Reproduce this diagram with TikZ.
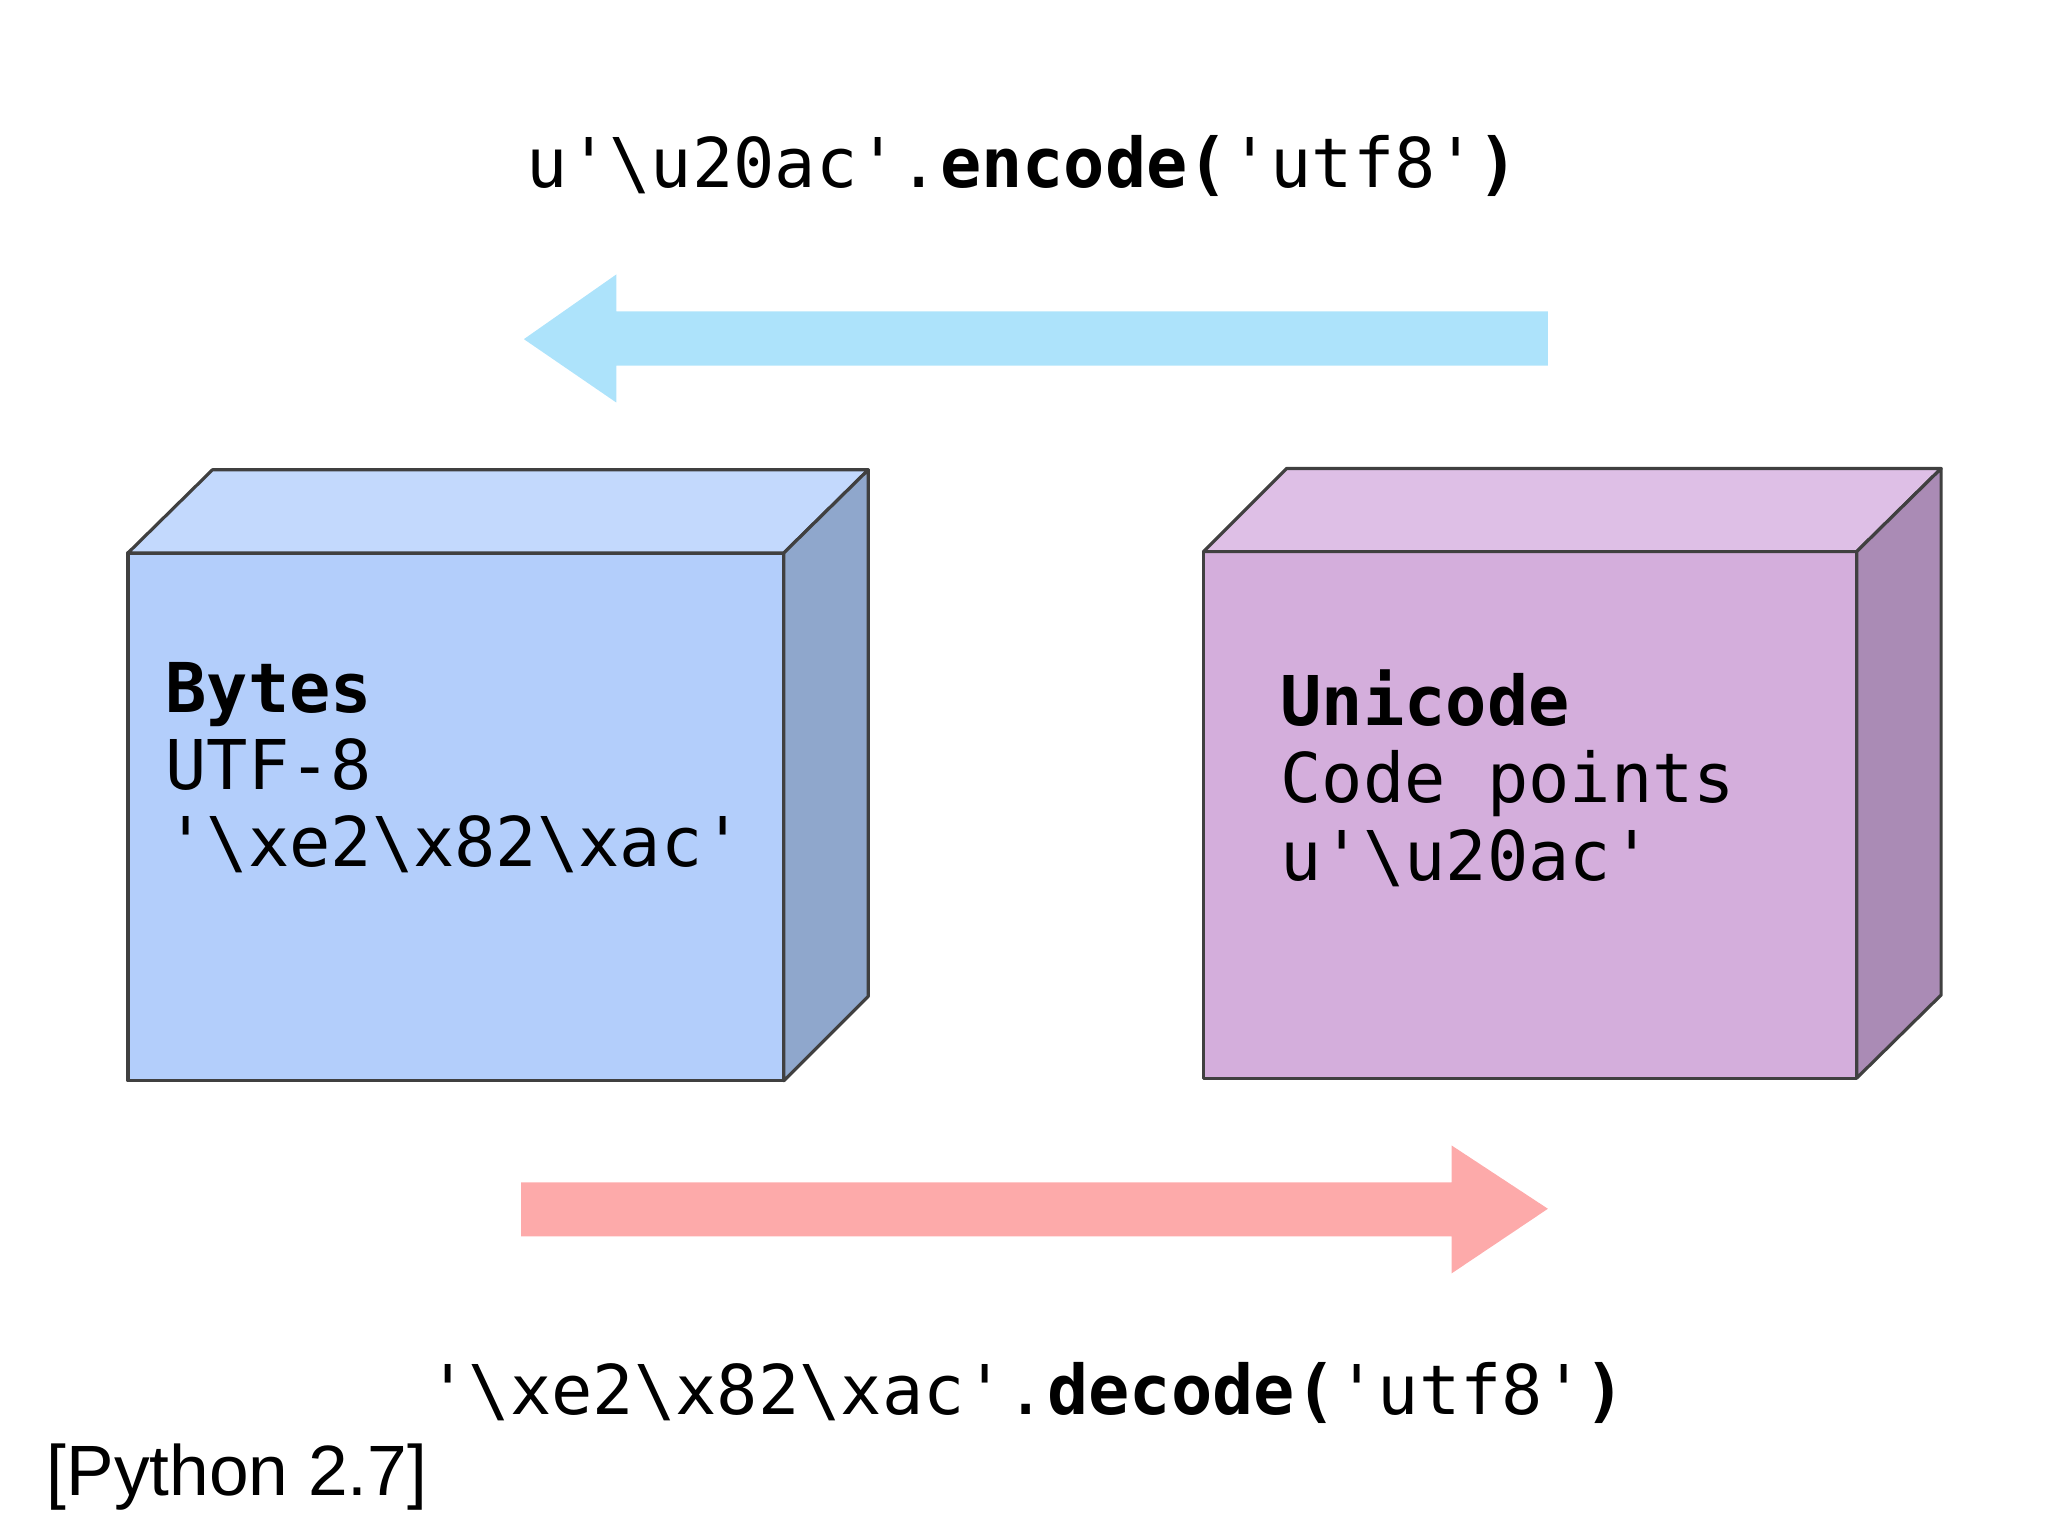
\documentclass[tikz,border=0pt]{standalone}
\usepackage{fontspec}
\setmainfont{Liberation Sans}
\newfontfamily\codefont{DejaVu Sans Mono}
\begin{document}
\begin{tikzpicture}[x=0.5pt,y=-0.5pt,
  edge/.style={draw=black!75,line width=1.2pt,line join=round},
  code/.style={font=\codefont\fontsize{26}{31}\selectfont,inner sep=0pt,anchor=base west,align=left},
  ctr/.style={font=\codefont\fontsize{26}{31}\selectfont,inner sep=0pt,anchor=base}]
\useasboundingbox (0,0) rectangle (1552,1164);
\definecolor{bfront}{HTML}{B3CEFB}\definecolor{btop}{HTML}{C3D9FD}\definecolor{bside}{HTML}{8FA7CC}
\definecolor{ufront}{HTML}{D4AEDC}\definecolor{utop}{HTML}{DEBFE6}\definecolor{uside}{HTML}{AA8BB5}
\definecolor{blarrow}{HTML}{ADE3FB}\definecolor{rdarrow}{HTML}{FDAAAA}
% left box
\fill[bfront,edge] (97,419) rectangle (594,819);
\fill[btop,edge] (97,419) -- (161,356) -- (658,356) -- (594,419) -- cycle;
\fill[bside,edge] (594,419) -- (658,356) -- (658,755) -- (594,819) -- cycle;
% right box
\fill[ufront,edge] (912,418) rectangle (1407,817);
\fill[utop,edge] (912,418) -- (975,355) -- (1471,355) -- (1407,418) -- cycle;
\fill[uside,edge] (1407,418) -- (1471,355) -- (1471,754) -- (1407,817) -- cycle;
% arrows
\fill[blarrow] (1173,236) -- (467,236) -- (467,208) -- (397,257) -- (467,305) -- (467,277) -- (1173,277) -- cycle;
\fill[rdarrow] (395,896) -- (1100,896) -- (1100,868) -- (1173,916) -- (1100,965) -- (1100,937) -- (395,937) -- cycle;
% texts
\node[ctr] (enc) at (775,142) {u'\textbackslash u20ac'.\textbf{encode(}'utf8'\textbf{)}};
\node[ctr] (dec) at (778,1072) {'\textbackslash xe2\textbackslash x82\textbackslash xac'.\textbf{decode(}'utf8'\textbf{)}};
\node[code] (b1) at (125,540) {\textbf{Bytes}};
\node[code] (b2) at (125,598) {UTF-8};
\node[code] (b3) at (125,657) {'\textbackslash xe2\textbackslash x82\textbackslash xac'};
\node[code] (u1) at (970,550) {\textbf{Unicode}};
\node[code] (u2) at (970,608) {Code points};
\node[code] (u3) at (970,667) {u'\textbackslash u20ac'};
\node[font=\fontsize{27}{32}\selectfont,inner sep=0pt,anchor=base west] (py) at (35,1133) {[Python 2.7]};
\end{tikzpicture}
\end{document}
